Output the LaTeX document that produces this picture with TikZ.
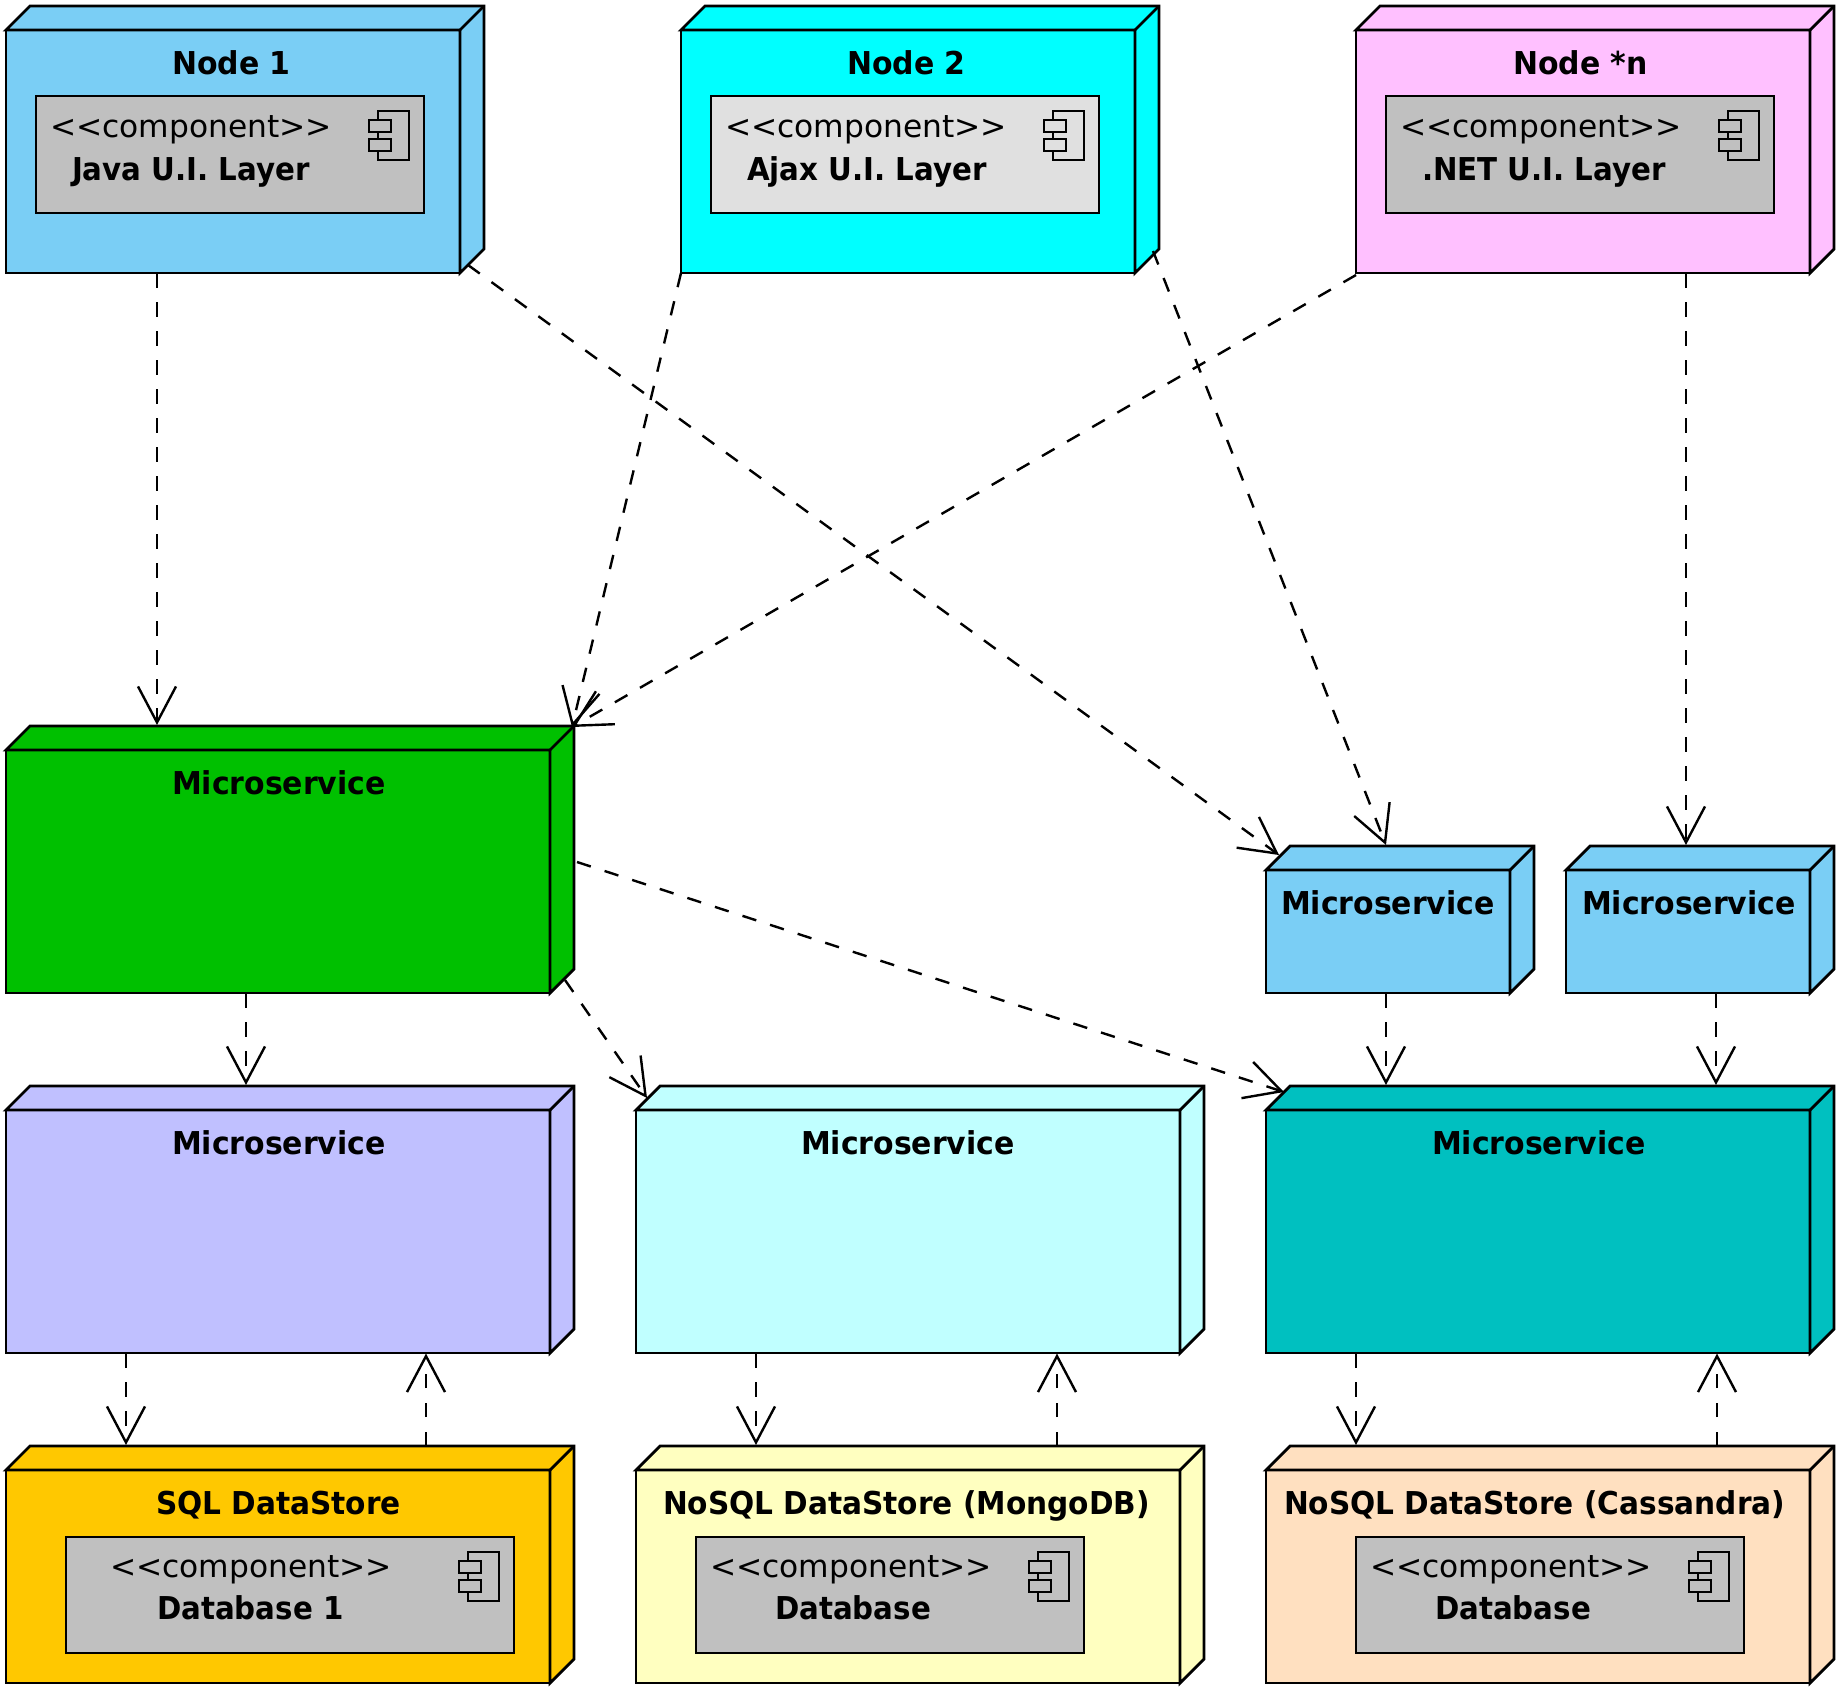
\documentclass[tikz,border=0pt]{standalone}
\usepackage{fontspec}
\usetikzlibrary{arrows.meta}
\newfontfamily\labfont[FakeStretch=0.95]{DejaVu Sans Bold}
\newfontfamily\dsfont[FakeStretch=0.94]{DejaVu Sans Bold}
\newfontfamily\cnfont[FakeStretch=0.93]{DejaVu Sans Bold}
\newfontfamily\stfont{DejaVu Sans}
\definecolor{cblue}{HTML}{7ACEF5}
\definecolor{cgreen}{HTML}{00C000}
\definecolor{cperi}{HTML}{C0C0FF}
\definecolor{clcyan}{HTML}{C0FFFF}
\definecolor{cteal}{HTML}{00C0C0}
\definecolor{cgold}{HTML}{FFC800}
\definecolor{cyell}{HTML}{FFFFC0}
\definecolor{cpeach}{HTML}{FFE0C0}
\definecolor{cpink}{HTML}{FFC0FF}
\definecolor{ccyan}{HTML}{00FFFF}
\definecolor{cgray}{HTML}{C0C0C0}
\definecolor{clgray}{HTML}{E0E0E0}
\tikzset{
  boxbase/.style={draw=black,line width=2.8pt,inner sep=0pt,outer sep=0pt,anchor=north west},
  depline/.style={draw=black,line width=2.4pt,dash pattern=on 14.5pt off 14.5pt,
    -{Straight Barb[length=36pt,width=38pt,line width=2.4pt]}},
  boldtext/.style={inner sep=0pt,outer sep=0pt,anchor=base west,font=\labfont\fontsize{31.5}{36}\selectfont},
  storetext/.style={inner sep=0pt,outer sep=0pt,anchor=base west,font=\dsfont\fontsize{31.5}{36}\selectfont},
  nametext/.style={inner sep=0pt,outer sep=0pt,anchor=base west,font=\cnfont\fontsize{31.5}{36}\selectfont},
  sttext/.style={inner sep=0pt,outer sep=0pt,anchor=base west,font=\stfont\fontsize{31.3}{36}\selectfont},
}
% deployment node: name, x, y, w, h, fill
\newcommand{\depbox}[6]{%
  \node[boxbase,fill=#6,minimum width=#4pt,minimum height=#5pt] (#1) at (#2,#3) {};
  \draw[line width=2.8pt,fill=#6,line join=miter]
    (#1.north west) -- ++(24,-24) -- ++(#4,0) -- ++(0,#5) -- (#1.south east) -- (#1.north east) -- cycle;
  \draw[line width=2.8pt] (#1.north east) -- ++(24,-24);
}
% component: name, x, y, w, h, fill
\newcommand{\compbox}[6]{%
  \node[boxbase,fill=#6,minimum width=#4pt,minimum height=#5pt] (#1) at (#2,#3) {};
  \draw[line width=2.8pt] ([shift={(-46,15)}]#1.north east) rectangle ([shift={(-15,64)}]#1.north east);
  \draw[line width=2.8pt,fill=#6] ([shift={(-55,24)}]#1.north east) rectangle ([shift={(-33,36)}]#1.north east);
  \draw[line width=2.8pt,fill=#6] ([shift={(-55,43)}]#1.north east) rectangle ([shift={(-33,55)}]#1.north east);
}
\newcommand{\dep}[6]{\draw[depline] ([shift={(#2,#3)}]#1.north west) -- ([shift={(#5,#6)}]#4.north west);}
\begin{document}
\begin{tikzpicture}[x=1pt,y=-1pt]
\useasboundingbox (0,0) rectangle (1848,1698);
\depbox{n1}{6}{30}{454}{243}{cblue}
\depbox{n2}{681}{30}{454}{243}{ccyan}
\depbox{nn}{1356}{30}{454}{243}{cpink}
\depbox{ms}{6}{750}{544}{243}{cgreen}
\depbox{sbA}{1266}{870}{244}{123}{cblue}
\depbox{sbB}{1566}{870}{244}{123}{cblue}
\depbox{rA}{6}{1110}{544}{243}{cperi}
\depbox{rB}{636}{1110}{544}{243}{clcyan}
\depbox{rC}{1266}{1110}{544}{243}{cteal}
\depbox{dA}{6}{1470}{544}{213}{cgold}
\depbox{dB}{636}{1470}{544}{213}{cyell}
\depbox{dC}{1266}{1470}{544}{213}{cpeach}
\compbox{cA}{36}{96}{388}{117}{cgray}
\compbox{cB}{711}{96}{388}{117}{clgray}
\compbox{cC}{1386}{96}{388}{117}{cgray}
\compbox{cD}{66}{1537}{448}{116}{cgray}
\compbox{cE}{696}{1537}{388}{116}{cgray}
\compbox{cF}{1356}{1537}{388}{116}{cgray}
% titles
\node[boldtext] (t1) at (172,74) {Node 1};
\node[boldtext] (t2) at (847,74) {Node 2};
\node[boldtext] (t3) at (1513,74) {Node *n};
\node[boldtext] (t4) at (172,794) {Microservice};
\node[boldtext] (t5) at (1281,914) {Microservice};
\node[boldtext] (t6) at (1582,914) {Microservice};
\node[boldtext] (t7) at (172,1154) {Microservice};
\node[boldtext] (t8) at (801,1154) {Microservice};
\node[boldtext] (t9) at (1432,1154) {Microservice};
\node[storetext] (t10) at (156,1514) {SQL DataStore};
\node[storetext] (t11) at (663,1514) {NoSQL DataStore (MongoDB)};
\node[storetext] (t12) at (1284,1514) {NoSQL DataStore (Cassandra)};
% stereotypes
\node[sttext] (s1) at (50,137) {<{}<component>{}>};
\node[sttext] (s2) at (725,137) {<{}<component>{}>};
\node[sttext] (s3) at (1400,137) {<{}<component>{}>};
\node[sttext] (s4) at (110,1577) {<{}<component>{}>};
\node[sttext] (s5) at (710,1577) {<{}<component>{}>};
\node[sttext] (s6) at (1370,1577) {<{}<component>{}>};
% component names
\node[nametext] (l1) at (72,180) {Java U.I. Layer};
\node[nametext] (l2) at (747,180) {Ajax U.I. Layer};
\node[nametext] (l3) at (1422,180) {.NET U.I. Layer};
\node[nametext] (l4) at (157,1619) {Database 1};
\node[nametext] (l5) at (775,1619) {Database};
\node[nametext] (l6) at (1435,1619) {Database};
% connectors
\dep{n1}{151}{243}{ms}{151}{-25}
\dep{n1}{462}{235}{sbA}{13}{-15}
\dep{n2}{0}{243}{ms}{566}{-23}
\dep{nn}{0}{245}{ms}{566}{-23}
\dep{n2}{472}{221}{sbA}{120}{-25}
\dep{nn}{330}{243}{sbB}{120}{-25}
\dep{ms}{240}{243}{rA}{240}{-25}
\dep{ms}{559}{230}{rB}{11}{-12}
\dep{ms}{571}{112}{rC}{18}{-18}
\dep{sbA}{120}{123}{rC}{120}{-25}
\dep{sbB}{150}{123}{rC}{450}{-25}
\dep{rA}{120}{243}{dA}{120}{-25}
\dep{dA}{420}{-24}{rA}{420}{243.5}
\dep{rB}{120}{243}{dB}{120}{-25}
\dep{dB}{421}{-24}{rB}{421}{243.5}
\dep{rC}{90}{243}{dC}{90}{-25}
\dep{dC}{451}{-24}{rC}{451}{243.5}
\end{tikzpicture}
\end{document}
